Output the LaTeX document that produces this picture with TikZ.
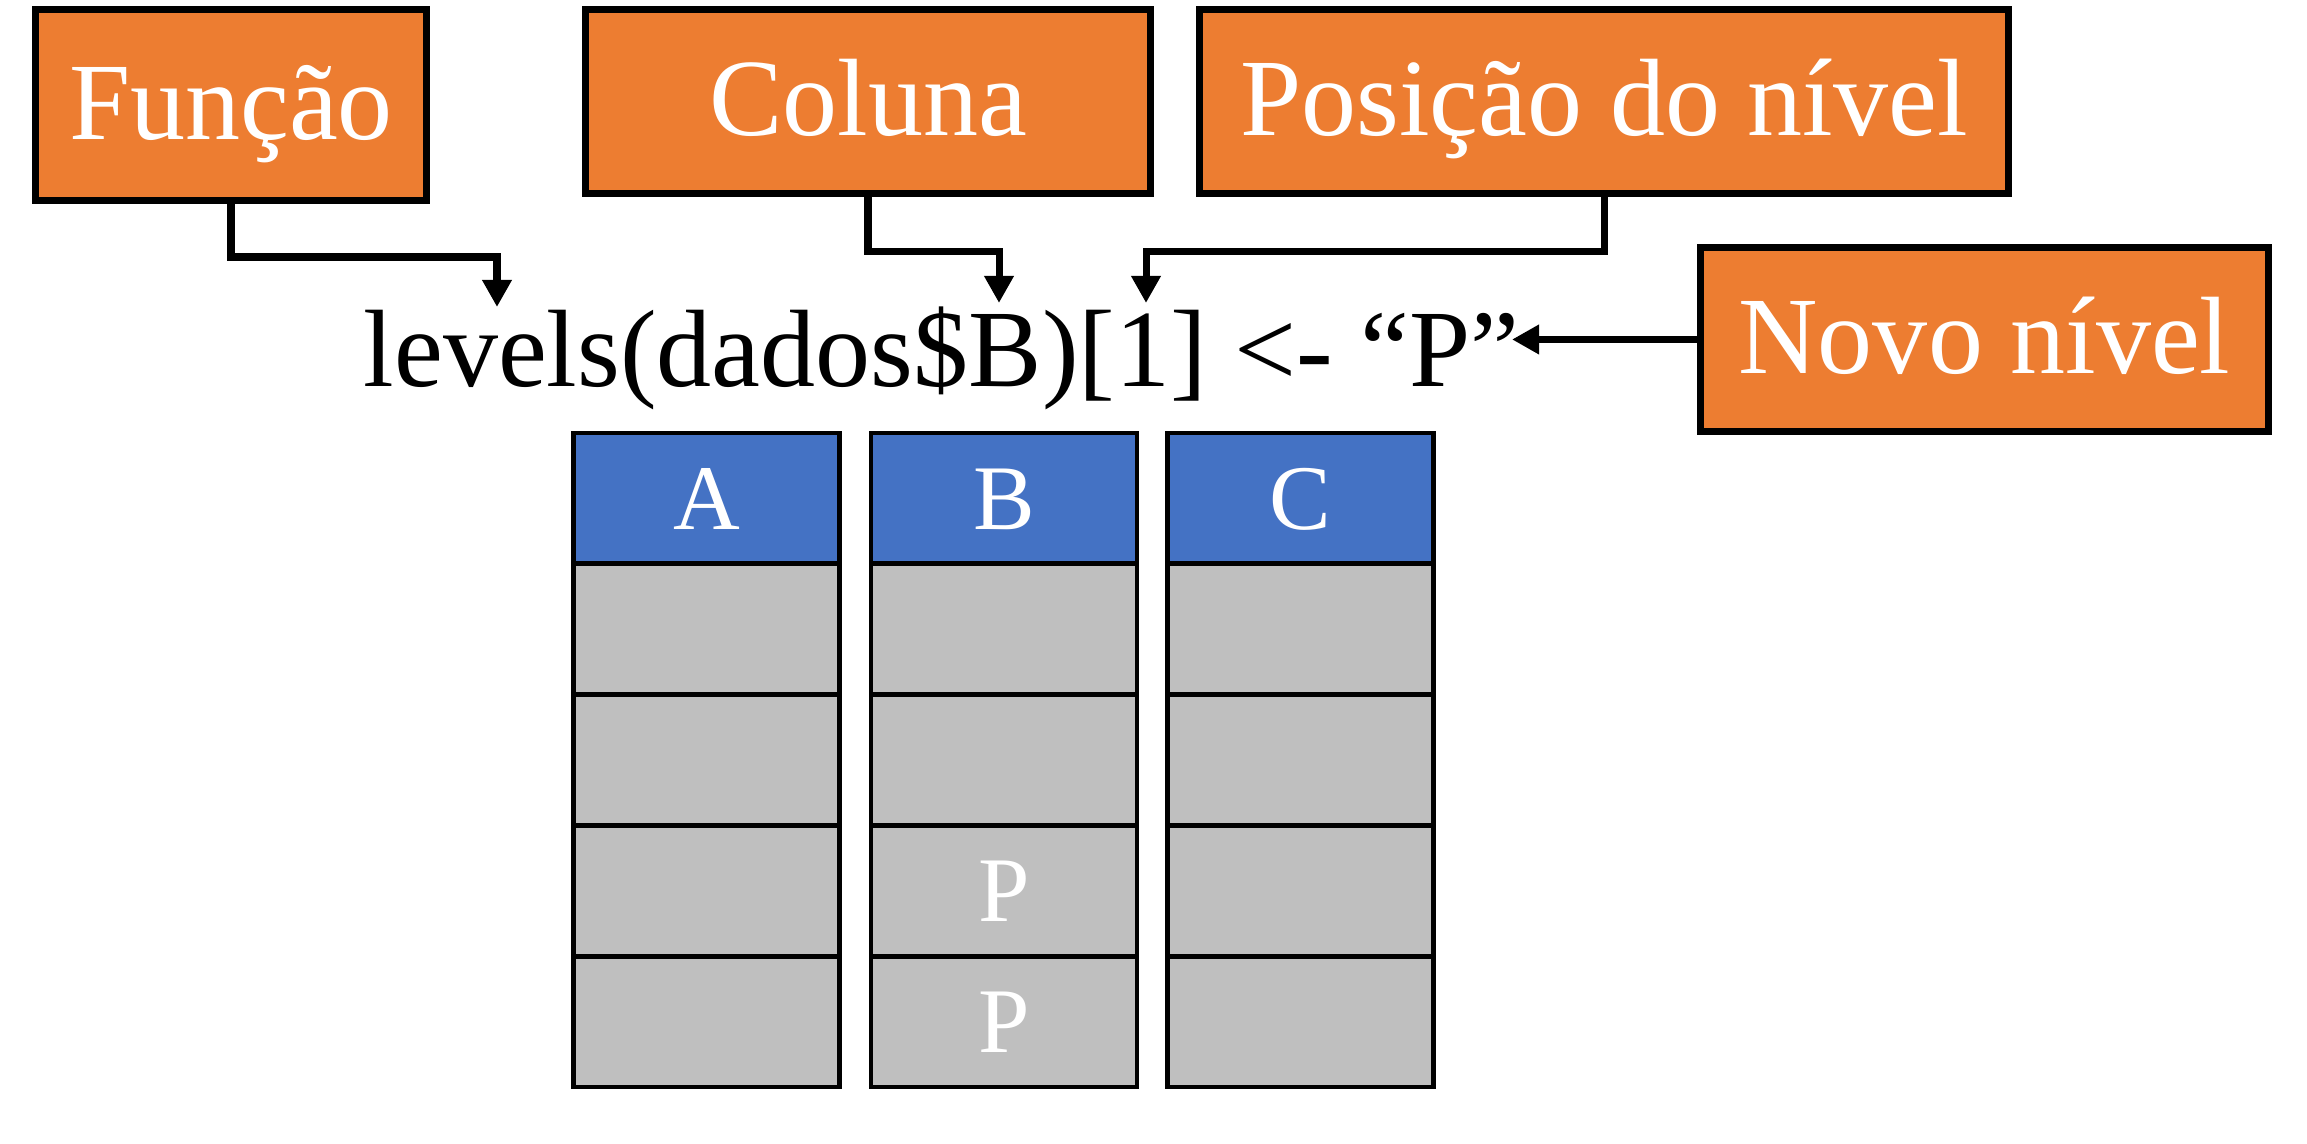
\documentclass[tikz,border=0pt]{standalone}
\usepackage{fontspec}
\setmainfont{Liberation Serif}
\usepackage{xcolor}
\usepackage{tikz}
\usetikzlibrary{arrows.meta}

\definecolor{tagorange}{HTML}{ED7D31}
\definecolor{headblue}{HTML}{4472C4}
\definecolor{cellgray}{HTML}{BFBFBF}

\begin{document}
\begin{tikzpicture}[
  tag/.style={draw=black, line width=2pt, fill=tagorange, text=white,
    minimum height=1.84cm, inner sep=0pt, text height=0.73cm, text depth=0.04cm,
    font=\fontsize{31.3}{37}\selectfont},
  head/.style={draw=black, line width=1.4pt, fill=headblue, text=white,
    minimum width=2.66cm, minimum height=1.308cm, inner sep=0pt,
    text height=0.62cm, text depth=0cm, font=\fontsize{26.3}{31}\selectfont},
  cell/.style={head, fill=cellgray},
  link/.style={line width=2pt, -{Triangle[length=0.27cm,width=0.28cm]}}]
\useasboundingbox (0,0) rectangle (23.07,11.44);
% labels
\node[tag, minimum width=3.91cm, minimum height=1.91cm] (funcao) at (2.31,10.39) {Função};
\node[tag, minimum width=5.65cm] (coluna) at (8.68,10.425) {Coluna};
\node[tag, minimum width=8.09cm] (posicao) at (16.04,10.425) {Posição do nível};
\node[tag, minimum width=5.68cm] (novo) at (19.845,8.045) {Novo nível};
% code line
\node[anchor=base west, inner sep=0pt, font=\fontsize{31.3}{37}\selectfont] (codigo) at (3.63,7.57) {levels(dados\$B)[1] <- “P”};
\coordinate (tipF) at (4.97,8.37);
\coordinate (tipC) at (9.99,8.41);
\coordinate (tipP) at (11.46,8.41);
\coordinate (tipN) at (15.12,8.045);
\draw[link] (funcao.south) -- ++(0,-0.53) -| (tipF);
\draw[link] (coluna.south) -- ++(0,-0.545) -| (tipC);
\draw[link] (posicao.south) -- ++(0,-0.545) -| (tipP);
\draw[link] (novo.west) -- (tipN);
% table
\foreach \col/\x in {A/7.065,B/10.04,C/13.005} {
  \node[head] (h\col) at (\x,6.456) {\col};
  \foreach \r/\y in {1/5.148,2/3.84,3/2.532,4/1.224}
    \node[cell] (c\col\r) at (\x,\y) {};
}
\node[text=white, inner sep=0pt, text height=0.62cm, text depth=0cm, font=\fontsize{26.3}{31}\selectfont] (p3) at (cB3) {P};
\node[text=white, inner sep=0pt, text height=0.62cm, text depth=0cm, font=\fontsize{26.3}{31}\selectfont] (p4) at (cB4) {P};
\end{tikzpicture}
\end{document}
